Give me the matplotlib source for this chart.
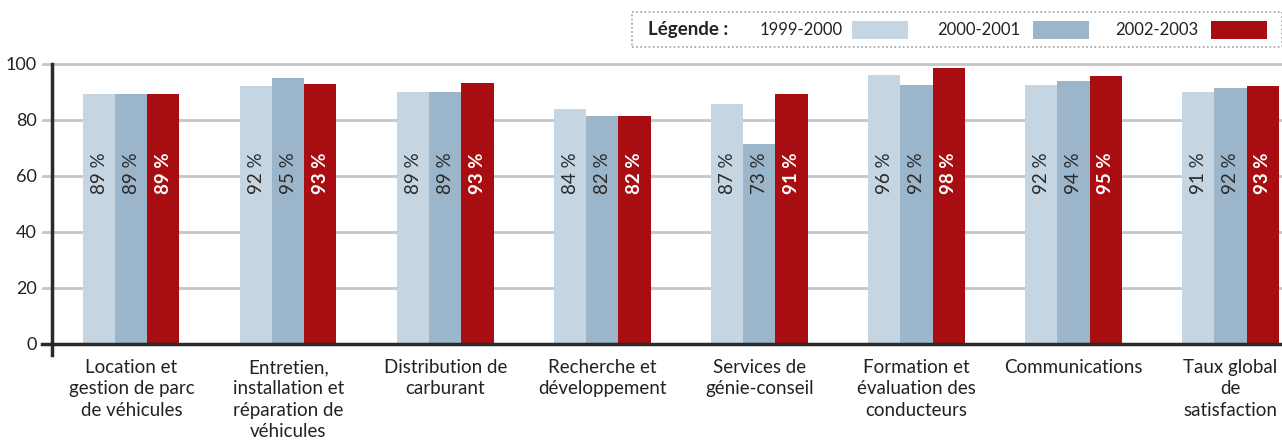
import matplotlib.pyplot as plt
from matplotlib.patches import Rectangle
import numpy as np

plt.rcParams['font.family'] = ['Lato', 'DejaVu Sans']

categories = ['Location et\ngestion de parc\nde véhicules',
              'Entretien,\ninstallation et\nréparation de\nvéhicules',
              'Distribution de\ncarburant',
              'Recherche et\ndéveloppement',
              'Services de\ngénie-conseil',
              'Formation et\névaluation des\nconducteurs',
              'Communications',
              'Taux global\nde\nsatisfaction']
series_names = ['1999-2000', '2000-2001', '2002-2003']

# bar heights as drawn in the source chart
heights_1999 = [89.4, 92.2, 90.1, 84.0, 85.8, 96.2, 92.6, 90.1]
heights_2000 = [89.4, 95.1, 90.1, 81.5, 71.5, 92.6, 94.0, 91.5]
heights_2002 = [89.4, 92.7, 93.3, 81.5, 89.4, 98.7, 95.8, 92.2]
# printed percentages
labels_1999 = [89, 92, 89, 84, 87, 96, 92, 91]
labels_2000 = [89, 95, 89, 82, 73, 92, 94, 92]
labels_2002 = [89, 93, 93, 82, 91, 98, 95, 93]
yticks = [0, 20, 40, 60, 80, 100]

colors = ['#c5d5e1', '#9bb5ca', '#a80d12']
W, H = 1282, 446

fig = plt.figure(figsize=(W / 100, H / 100), dpi=100)
ax = fig.add_axes([52 / W, 102 / H, 1230 / W, 280 / H])

x = np.arange(len(categories))
width = 0.204
heights = [heights_1999, heights_2000, heights_2002]
labels = [labels_1999, labels_2000, labels_2002]
for i in range(3):
    xs = x + (i - 1) * width
    ax.bar(xs, heights[i], width, color=colors[i], zorder=2, linewidth=0)
    for xi, lab in zip(xs, labels[i]):
        if i == 2:
            ax.text(xi, 61, f'{lab} %', rotation=90, ha='center', va='center',
                    color='white', fontsize=13.5, fontweight='bold', zorder=3)
        else:
            ax.text(xi, 61, f'{lab} %', rotation=90, ha='center', va='center',
                    color='#2a2a2a', fontsize=13.5, zorder=3)

ax.set_xlim(-0.506, 7.328)
ax.set_ylim(0, 100)
for s in ax.spines.values():
    s.set_visible(False)

for y in yticks[1:]:
    ax.axhline(y, xmin=-9 / 1230, xmax=1, color='#c6c6c9', lw=2, zorder=0, clip_on=False)
ax.axhline(0, xmin=-10 / 1230, xmax=1, color='#2a2a2a', lw=2.5, zorder=4, clip_on=False)
ax.axvline(-0.506, ymin=-11 / 280, ymax=1, color='#2a2a2a', lw=2.5, zorder=4, clip_on=False)

ax.set_yticks(yticks)
ax.set_yticklabels([str(v) for v in yticks], fontsize=13, color='#222222')
ax.set_xticks(x)
ax.set_xticklabels(categories, fontsize=13.5, color='#222222', linespacing=1.3)
ax.tick_params(axis='y', length=0, pad=11)
ax.tick_params(axis='x', length=0, pad=11)

# legend box
fig.patches.append(Rectangle((632 / W, 1 - 47 / H), (W - 632) / W, 35 / H,
                             transform=fig.transFigure, fill=False, edgecolor='#a0a0a0',
                             linestyle=(0, (1, 1.5)), lw=1.2))
fig.text(648 / W, 1 - 30 / H, 'Légende :', fontsize=13.5, fontweight='bold',
         color='#222222', va='center', ha='left')
text_x = [760, 937, 1115]
swatch_x = [852, 1033, 1211]
for name, tx, sx, c in zip(series_names, text_x, swatch_x, colors):
    fig.text(tx / W, 1 - 30 / H, name, fontsize=12, color='#222222', va='center', ha='left')
    fig.patches.append(Rectangle((sx / W, 1 - 39 / H), 56 / W, 18 / H,
                                 transform=fig.transFigure, color=c, lw=0))

fig.savefig('out.png', dpi=100)
